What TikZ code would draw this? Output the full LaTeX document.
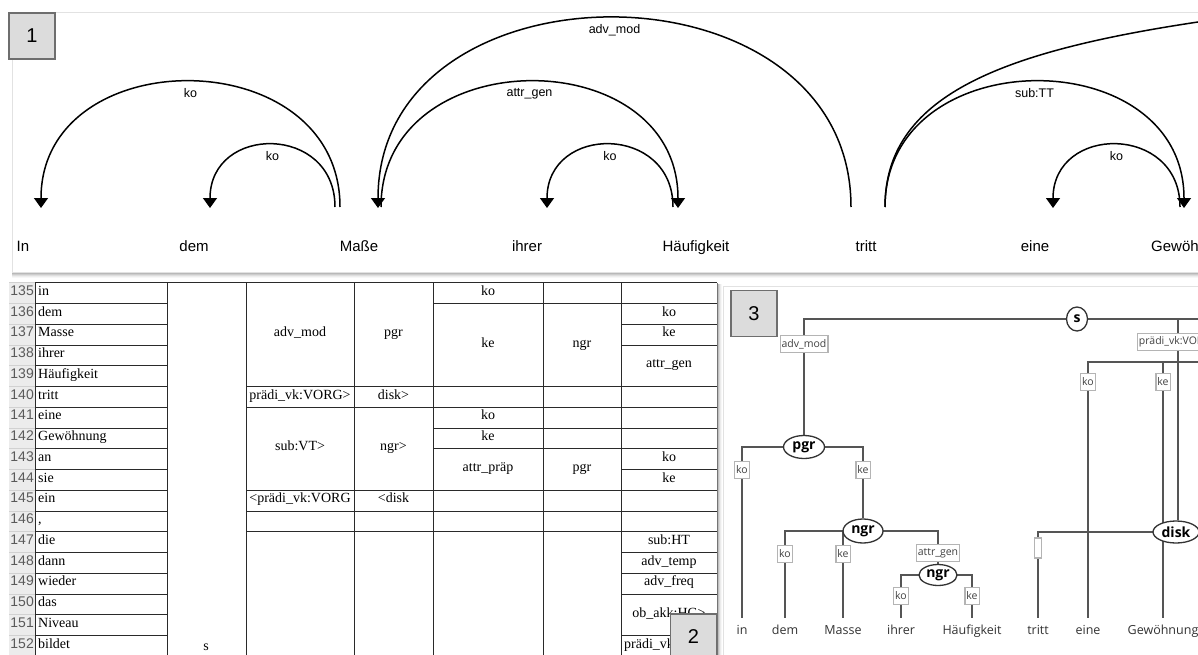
\documentclass[tikz,border=0pt]{standalone}
\usepackage{fontspec}
\setmainfont{Liberation Serif}
\newfontfamily\arialf{Liberation Sans}
\newfontfamily\osf{Open Sans}
\usetikzlibrary{arrows.meta,shapes.geometric}
\pgfdeclarelayer{back}
\pgfdeclarelayer{bg}
\pgfsetlayers{back,bg,main}
\definecolor{lblgrey}{HTML}{DCDCDC}
\definecolor{lblborder}{HTML}{6E6E6E}
\definecolor{treeline}{HTML}{555555}
\definecolor{boxborder}{HTML}{B4B4B4}
\definecolor{rownumbg}{HTML}{ECECEC}
\definecolor{rownumfg}{HTML}{5A5A5A}
\definecolor{gridc}{HTML}{2A2A2A}
\definecolor{framec}{HTML}{E2E2E2}
\begin{document}
\begin{tikzpicture}[x=1pt,y=-1pt,
  panellabel/.style={draw=lblborder,fill=lblgrey,line width=1.2pt,minimum width=46,minimum height=46,inner sep=0,font=\arialf\fontsize{20}{22}\selectfont},
  pword/.style={anchor=base,inner sep=0,font=\arialf\fontsize{15}{18}\selectfont},
  arcline/.style={line width=1.5pt},
  arrowtip/.style={-{Triangle[width=14pt,length=10pt]}},
  arclbl/.style={below=5pt,inner sep=1pt,font=\arialf\fontsize{12.5}{14}\selectfont},
  tcell/.style={anchor=mid,inner sep=0,font=\fontsize{14}{16}\selectfont},
  wcell/.style={anchor=mid west,inner sep=0,font=\fontsize{14}{16}\selectfont},
  rnum/.style={anchor=mid east,inner sep=0,text=rownumfg,font=\arialf\fontsize{14}{15}\selectfont},
  gridline/.style={draw=gridc,line width=0.9pt},
  tline/.style={draw=treeline,line width=1.8pt},
  catnode/.style={ellipse,draw=black!80,line width=1.3pt,fill=white,inner sep=1pt,font=\osf\bfseries\fontsize{14}{16}\selectfont},
  elab/.style={draw=boxborder,line width=1.2pt,fill=white,inner sep=1.5pt,minimum height=17,text=black!75,font=\osf\fontsize{10.5}{12}\selectfont},
  tword/.style={anchor=base,inner sep=0,text height=10pt,text depth=3pt,text=black!80,font=\osf\fontsize{12.5}{15}\selectfont},
]
\useasboundingbox (0,0) rectangle (1198,655);
\begin{pgfonlayer}{back}
\fill[white] (0,0) rectangle (1198,655);
\fill[white] (723,286) rectangle (1198,655);
\draw[framec,line width=1pt] (723,656) -- (723,286) -- (1199,286);
\end{pgfonlayer}

% ---------------- Panel 1 ----------------
\foreach \d/\o in {1/0.28,2/0.2,3/0.13,4/0.07,5/0.03}
  \draw[black,opacity=\o] (12,272+\d) -- (1198,272+\d);
\draw[framec,fill=white] (12,12) rectangle (1210,272);
\begin{scope}
\clip (12,12) rectangle (1198,272);
\node[pword] (pIn) at (23,251) {In};
\node[pword] (pDem) at (194,251) {dem};
\node[pword] (pMasse) at (359,251) {Maße};
\node[pword] (pIhrer) at (527,251) {ihrer};
\node[pword] (pHaeuf) at (696,251) {Häufigkeit};
\node[pword] (pTritt) at (866,251) {tritt};
\node[pword] (pEine) at (1035,251) {eine};
\node[pword,anchor=base west] (pGew) at (1151,251) {Gewöhnung};

\coordinate (sKoA) at (340,207);
\coordinate (sKoB) at (335,207);
\coordinate (tIn) at (41,208);
\coordinate (tDem) at (210,208);
\coordinate (tMasse) at (378,208);
\coordinate (sAttr) at (381,207);
\coordinate (tHaeuf) at (678,208);
\coordinate (sKoC) at (673,207);
\coordinate (tIhrer) at (547,208);
\coordinate (sTrA) at (851,207);
\coordinate (sTrB) at (885,207);
\coordinate (tGew) at (1184,208);
\coordinate (sKoD) at (1180,207);
\coordinate (tEine) at (1053,208);
\coordinate (edgeC) at (1198,22);
\coordinate (farC) at (1270,11);

\draw[arcline,arrowtip] (sKoA) .. controls +(0,-167) and +(0,-168) .. (tIn) node[arclbl,pos=.5]{ko};
\draw[arcline,arrowtip] (sKoB) .. controls +(0,-83) and +(0,-84) .. (tDem) node[arclbl,pos=.5]{ko};
\draw[arcline,arrowtip] (sTrA) .. controls +(0,-252) and +(0,-253) .. (tMasse) node[arclbl,pos=.5]{adv\_mod};
\draw[arcline,arrowtip] (sAttr) .. controls +(0,-167) and +(0,-168) .. (tHaeuf) node[arclbl,pos=.5]{attr\_gen};
\draw[arcline,arrowtip] (sKoC) .. controls +(0,-83) and +(0,-84) .. (tIhrer) node[arclbl,pos=.5]{ko};
\draw[arcline,arrowtip] (sTrB) .. controls +(0,-167) and +(0,-168) .. (tGew) node[arclbl,pos=.5]{sub:TT};
\draw[arcline,arrowtip] (sKoD) .. controls +(0,-83) and +(0,-84) .. (tEine) node[arclbl,pos=.5]{ko};
\draw[arcline] (sTrB) .. controls (885,97) and (998,52) .. (edgeC) -- (farC);
\end{scope}
\node[panellabel] (lab1) at (32,36) {1};

% ---------------- Panel 2 ----------------
\foreach \d/\o in {1/0.25,2/0.15,3/0.08,4/0.03}
  \draw[black,opacity=\o] (717+\d,284) -- (717+\d,655);
\begin{scope}
\clip (0,278) rectangle (717.6,655);
\fill[rownumbg] (9,282.7) rectangle (35,656);
\foreach \w [count=\i from 0] in {in,dem,Masse,ihrer,Häufigkeit,tritt,eine,Gewöhnung,an,sie,ein,{,},die,dann,wieder,das,Niveau,bildet} {
  \pgfmathsetmacro\n{int(135+\i)}
  \node[wcell] (w\n) at (38,{293.1+20.75*\i}) {\w};
  \node[rnum] (n\n) at (34,{293.1+20.75*\i}) {\n};
}
\foreach \i in {0,...,18}
  \draw[black!18,line width=0.8pt] (9,{282.7+20.75*\i}) -- (35,{282.7+20.75*\i});
\foreach \i in {0,...,18}
  \draw[gridline] (35,{282.7+20.75*\i}) -- (167,{282.7+20.75*\i});
\draw[gridline] (167,282.7) -- (246,282.7);
\foreach \i in {0,5,6,10,11,12}
  \draw[gridline] (246,{282.7+20.75*\i}) -- (433,{282.7+20.75*\i});
\foreach \i in {0,1,5,6,7,8,10,11,12}
  \draw[gridline] (433,{282.7+20.75*\i}) -- (621,{282.7+20.75*\i});
\foreach \i in {0,1,2,3,5,6,7,8,9,10,11,12,13,14,15,17}
  \draw[gridline] (621,{282.7+20.75*\i}) -- (717,{282.7+20.75*\i});
\foreach \x in {35,167,246,354,433,543,621,717}
  \draw[gridline] (\x,282.7) -- (\x,656);
% column C
\node[tcell] (cS) at (206,648) {s};
% column D
\node[tcell] (dA) at (300,334.6) {adv\_mod};
\node[tcell] (dB) at (300,396.8) {prädi\_vk:VORG>};
\node[tcell] (dC) at (300,448.7) {sub:VT>};
\node[tcell] (dD) at (300,500.6) {<prädi\_vk:VORG};
% column E
\node[tcell] (eA) at (393.5,334.6) {pgr};
\node[tcell] (eB) at (393.5,396.8) {disk>};
\node[tcell] (eC) at (393.5,448.7) {ngr>};
\node[tcell] (eD) at (393.5,500.6) {<disk};
% column F
\node[tcell] (fA) at (488,293.1) {ko};
\node[tcell] (fB) at (488,344.95) {ke};
\node[tcell] (fC) at (488,417.6) {ko};
\node[tcell] (fD) at (488,438.3) {ke};
\node[tcell] (fE) at (488,469.45) {attr\_präp};
% column G
\node[tcell] (gA) at (582,344.95) {ngr};
\node[tcell] (gB) at (582,469.45) {pgr};
% column H
\node[tcell] (hA) at (669,313.8) {ko};
\node[tcell] (hB) at (669,334.6) {ke};
\node[tcell] (hC) at (669,365.7) {attr\_gen};
\node[tcell] (hD) at (669,459.1) {ko};
\node[tcell] (hE) at (669,479.8) {ke};
\node[tcell] (hF) at (669,542.1) {sub:HT};
\node[tcell] (hG) at (669,562.8) {adv\_temp};
\node[tcell] (hH) at (669,583.6) {adv\_freq};
\node[tcell] (hI) at (669,614.7) {ob\_akk:HG>};
\node[tcell,anchor=mid west] (hJ) at (624,645.8) {prädi\_vk:VORG>};
\end{scope}
\node[panellabel] (lab2) at (693.5,637) {2};

% ---------------- Panel 3 ----------------
\begin{scope}
\clip (723,286) rectangle (1198,655);
\coordinate (sR) at (1240,319);
\coordinate (ngrR) at (1240,362);
\node[catnode,minimum width=21,minimum height=24] (s) at (1077,319) {s};
\node[elab] (eAdv) at (804,344) {adv\_mod};
\node[catnode,minimum width=41,minimum height=23] (pgr) at (804,447) {pgr};
\node[elab] (eKo1) at (742,470) {ko};
\node[elab] (eKe1) at (863,470) {ke};
\node[catnode,minimum width=40,minimum height=24] (ngrA) at (863,531) {ngr};
\node[elab] (eKo2) at (785,554) {ko};
\node[elab] (eKe2) at (843,554) {ke};
\node[elab] (eAttr) at (938,553) {attr\_gen};
\node[catnode,minimum width=38,minimum height=21] (ngrB) at (938,575) {ngr};
\node[elab] (eKo3) at (901,596) {ko};
\node[elab] (eKe3) at (972,596) {ke};
\node[elab] (ePr) at (1178,342) {prädi\_vk:VORG>};
\node[elab] (eKo4) at (1088,382) {ko};
\node[elab] (eKe4) at (1163,382) {ke};
\node[catnode,minimum width=46,minimum height=22] (disk) at (1176,532) {disk};
\node[elab,minimum width=7,minimum height=20,inner sep=0] (eNone) at (1038,548) {};

\node[tword] (tIn) at (742,634) {in};
\node[tword] (tDem) at (785,634) {dem};
\node[tword] (tMasse) at (843,634) {Masse};
\node[tword] (tIhrer) at (901,634) {ihrer};
\node[tword] (tHaeuf) at (972,634) {Häufigkeit};
\node[tword] (tTritt) at (1038,634) {tritt};
\node[tword] (tEine) at (1088,634) {eine};
\node[tword] (tGew) at (1163,634) {Gewöhnung};

\begin{pgfonlayer}{bg}
\draw[tline] (s.center) -| (eAdv.north);
\draw[tline] (s.center) -- (sR);
\draw[tline] (s.center) -| (ePr.north);
\draw[tline] (eAdv.south) -- (pgr.north);
\draw[tline] (pgr.center) -| (eKo1.north);
\draw[tline] (pgr.center) -| (eKe1.north);
\draw[tline] (eKo1.south) -- ([yshift=6pt]tIn.north);
\draw[tline] (eKe1.south) -- (ngrA.north);
\draw[tline] (ngrA.center) -| (eKo2.north);
\draw[tline] (ngrA.center) -| (eKe2.north);
\draw[tline] (ngrA.center) -| (eAttr.north);
\draw[tline] (eKo2.south) -- ([yshift=6pt]tDem.north);
\draw[tline] (eKe2.south) -- ([yshift=6pt]tMasse.north);
\draw[tline] (eAttr.south) -- (ngrB.north);
\draw[tline] (ngrB.center) -| (eKo3.north);
\draw[tline] (ngrB.center) -| (eKe3.north);
\draw[tline] (eKo3.south) -- ([yshift=6pt]tIhrer.north);
\draw[tline] (eKe3.south) -- ([yshift=6pt]tHaeuf.north);
\draw[tline] (ePr.south) -- (ePr.south |- disk.north);
\draw[tline] (ngrR) -| (eKo4.north);
\draw[tline] (ngrR) -| (eKe4.north);
\draw[tline] (eKo4.south) -- ([yshift=6pt]tEine.north);
\draw[tline] (eKe4.south) -- ([yshift=6pt]tGew.north);
\draw[tline] (disk.center) -| (eNone.north);
\draw[tline] (eNone.south) -- ([yshift=6pt]tTritt.north);
\end{pgfonlayer}
\end{scope}
\node[panellabel] (lab3) at (754,313.5) {3};
\end{tikzpicture}
\end{document}
